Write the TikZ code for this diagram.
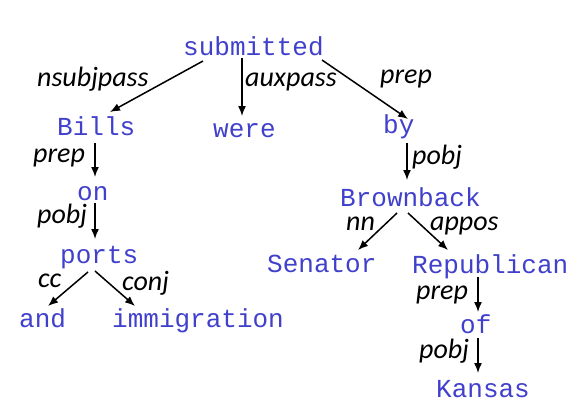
\documentclass[tikz,border=0pt]{standalone}
\usepackage{fontspec}
\usetikzlibrary{arrows.meta}
\setmonofont{Liberation Mono}
\newfontfamily\lblfont{Carlito}
\definecolor{wordblue}{RGB}{64,64,204}
\begin{document}
\begin{tikzpicture}[x=1pt,y=-1pt,
  word/.style={anchor=base west,inner sep=0pt,text=wordblue,font=\ttfamily\fontsize{26}{26}\selectfont},
  lbl/.style={anchor=base west,inner sep=0pt,font=\lblfont\itshape\fontsize{28}{28}\selectfont},
  arr/.style={line width=1.5pt,-{Latex[length=10pt,width=8pt]}}]
\fill[white] (0,0) rectangle (585,416);
\useasboundingbox (0,0) rectangle (585,416);
% words
\node[word] (sub) at (183,55) {submitted};
\node[word] (bills) at (57,135) {Bills};
\node[word] (were) at (213,137) {were};
\node[word] (by) at (383,133) {by};
\node[word] (on) at (77,200) {on};
\node[word] (brown) at (340,206) {Brownback};
\node[word] (ports) at (60,263) {ports};
\node[word] (sen) at (267,272) {Senator};
\node[word] (rep) at (412,273) {Republican};
\node[word] (and) at (19,327) {and};
\node[word] (immig) at (112,327) {immigration};
\node[word] (of) at (460,333) {of};
\node[word] (kansas) at (436,397) {Kansas};
% labels
\node[lbl] (l1) at (37,86) {nsubjpass};
\node[lbl] (l2) at (245,86) {auxpass};
\node[lbl] (l3) at (380,83) {prep};
\node[lbl] (l4) at (33,162) {prep};
\node[lbl] (l5) at (37,223) {pobj};
\node[lbl] (l6) at (412,164) {pobj};
\node[lbl] (l7) at (38,287) {cc};
\node[lbl] (l8) at (122,290) {conj};
\node[lbl] (l9) at (346,230) {nn};
\node[lbl] (l10) at (430,230) {appos};
\node[lbl] (l11) at (416,299) {prep};
\node[lbl] (l12) at (419,358) {pobj};
% arrows
\draw[arr] ([shift={(20,6)}]sub.base west) -- ([shift={(53,-23)}]bills.base west);
\draw[arr] ([shift={(59,3)}]sub.base west) -- ([shift={(29,-21)}]were.base west);
\draw[arr] ([shift={(139,5)}]sub.base west) -- ([shift={(25,-14)}]by.base west);
\draw[arr] ([shift={(38,8)}]bills.base west) -- ([shift={(18,-23)}]on.base west);
\draw[arr] ([shift={(18,3)}]on.base west) -- ([shift={(35,-24)}]ports.base west);
\draw[arr] ([shift={(28,9)}]ports.base west) -- ([shift={(29,-21)}]and.base west);
\draw[arr] ([shift={(35,8)}]ports.base west) -- ([shift={(23,-21)}]immig.base west);
\draw[arr] ([shift={(24,10)}]by.base west) -- ([shift={(67,-26)}]brown.base west);
\draw[arr] ([shift={(57,7)}]brown.base west) -- ([shift={(91,-22)}]sen.base west);
\draw[arr] ([shift={(68,7)}]brown.base west) -- ([shift={(36,-23)}]rep.base west);
\draw[arr] ([shift={(66,4)}]rep.base west) -- ([shift={(18,-21)}]of.base west);
\draw[arr] ([shift={(18,5)}]of.base west) -- ([shift={(42,-24)}]kansas.base west);
\end{tikzpicture}
\end{document}
